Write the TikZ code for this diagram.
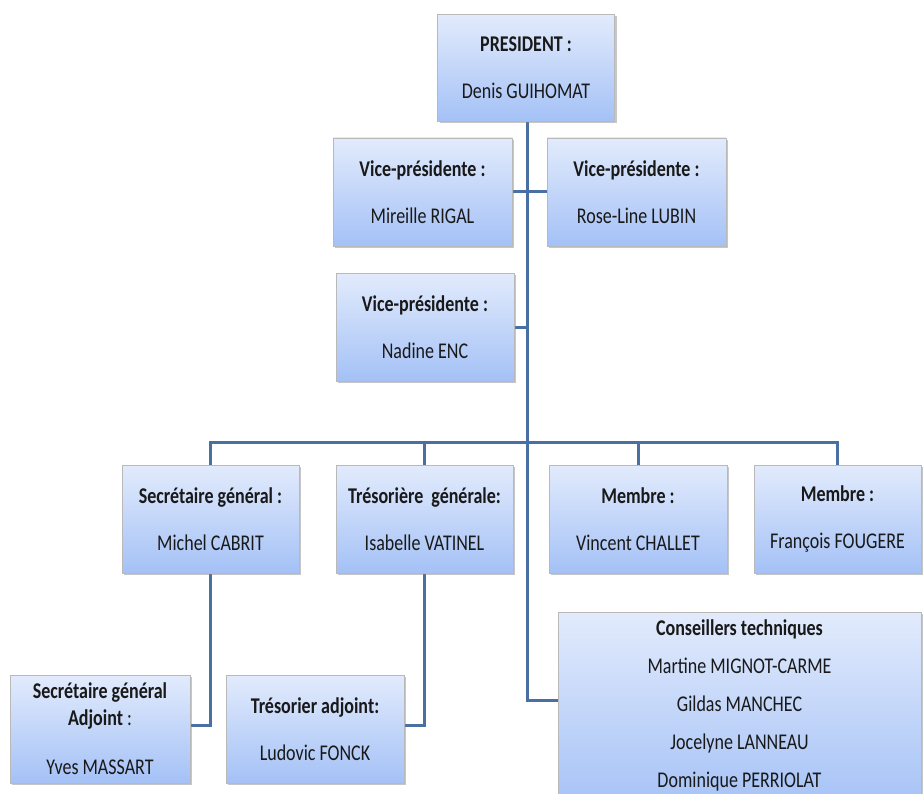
\documentclass[tikz,border=0pt]{standalone}
\usepackage{fontspec}
\setmainfont{Carlito}[FakeStretch=0.8]
\usetikzlibrary{shadows,backgrounds}
\definecolor{boxtop}{HTML}{E2EBFC}
\definecolor{boxbot}{HTML}{A4C1F6}
\definecolor{linkc}{HTML}{4A70A3}
\tikzset{
  orgbox/.style={draw=gray!55, line width=0.6pt, top color=boxtop, bottom color=boxbot,
    drop shadow={shadow xshift=2pt, shadow yshift=-2pt, opacity=0.45},
    align=center, inner sep=2pt, font=\fontsize{22.5}{27}\selectfont, text=black!90},
  orgtext/.style={align=center, inner sep=0pt, font=\fontsize{22.5}{27}\selectfont, text=black!90},
  link/.style={draw=linkc, line width=3pt}
}
\begin{document}
\begin{tikzpicture}[x=1pt,y=-1pt]
\useasboundingbox (0,0) rectangle (923,794);
\node[orgbox, minimum width=177pt, minimum height=107pt] (pres) at (526,68) {\textbf{PRESIDENT :}\\[20pt]Denis GUIHOMAT};
\node[orgbox, minimum width=179pt, minimum height=108pt] (vp1) at (422.5,192) {\textbf{Vice-présidente :}\\[20pt]Mireille RIGAL};
\node[orgbox, minimum width=179pt, minimum height=108pt] (vp2) at (636.5,192) {\textbf{Vice-présidente :}\\[20pt]Rose-Line LUBIN};
\node[orgbox, minimum width=178pt, minimum height=108pt] (vp3) at (425,327) {\textbf{Vice-présidente :}\\[20pt]Nadine ENC};
\node[orgbox, minimum width=177pt, minimum height=108pt] (sec) at (210.5,519) {\textbf{Secrétaire général :}\\[20pt]Michel CABRIT};
\node[orgbox, minimum width=177pt, minimum height=108pt] (tres) at (424.5,519) {\textbf{Trésorière\ \ générale:}\\[20pt]Isabelle VATINEL};
\node[orgbox, minimum width=178pt, minimum height=108pt] (m1) at (638,519) {\textbf{Membre :}\\[20pt]Vincent CHALLET};
\node[orgbox, minimum width=167pt, minimum height=108pt] (m2) at (837.5,519) {\textbf{Membre :}\\[20pt]François FOUGERE};
\node[orgbox, minimum width=363pt, minimum height=200pt] (cons) at (739.5,712) {};
\node[orgtext] (constext) at (739.5,705) {\textbf{Conseillers techniques}\\[11pt]Martine MIGNOT-CARME\\[11pt]Gildas MANCHEC\\[11pt]Jocelyne LANNEAU\\[11pt]Dominique PERRIOLAT};
\node[orgbox, minimum width=180pt, minimum height=108pt] (secadj) at (100,729) {\textbf{Secrétaire général}\\\textbf{Adjoint} :\\[22pt]Yves MASSART};
\node[orgbox, minimum width=178pt, minimum height=108pt] (tresadj) at (315,729) {\textbf{Trésorier adjoint:}\\[20pt]Ludovic FONCK};
\coordinate (tc) at (527,700);
\coordinate (bus) at (527,442);
\begin{scope}[on background layer]
\draw[link] (pres.south -| tc) -- (tc) -- (tc -| cons.west);
\draw[link] (vp1.east) -- (vp2.west);
\draw[link] (vp3.east) -- (vp3.east -| tc);
\draw[link] (sec.north) |- (bus) -| (m2.north);
\draw[link] (tres.north) -- (tres.north |- bus);
\draw[link] (m1.north) -- (m1.north |- bus);
\draw[link] (sec.south) -- (sec.south |- 0,725) -- (secadj.east |- 0,725);
\draw[link] (tres.south) -- (tres.south |- 0,725) -- (tresadj.east |- 0,725);
\end{scope}
\end{tikzpicture}
\end{document}
